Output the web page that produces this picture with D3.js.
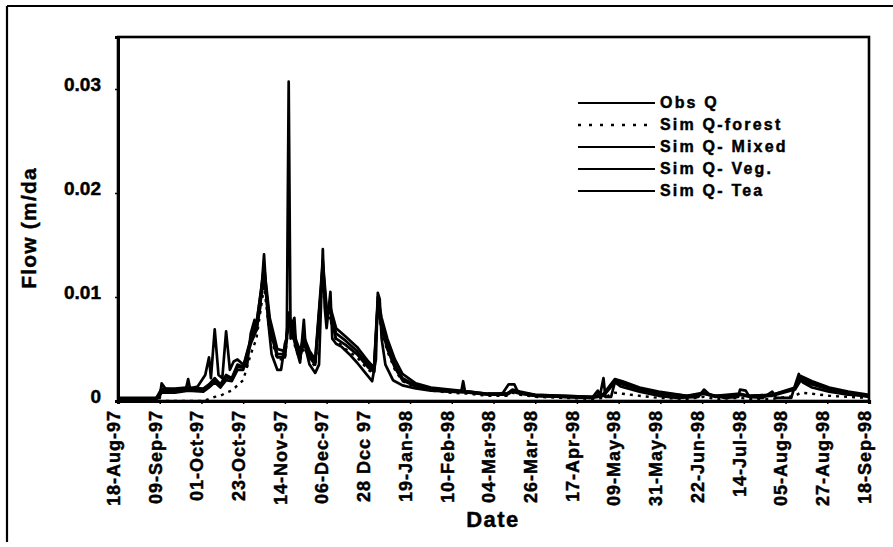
<!DOCTYPE html>
<html>
<head>
<meta charset="utf-8">
<script src="https://cdn.jsdelivr.net/npm/d3@7"></script>
<style>
  html, body { margin: 0; padding: 0; background: #fff; }
  svg { display: block; }
  text { font-family: "Liberation Sans", Arial, sans-serif; font-weight: bold; fill: #000; stroke: #000; stroke-width: 0.45px; }
</style>
</head>
<body>
<svg id="chart" width="893" height="547"></svg>
<script>
// ---------------- DATA ----------------
const tickDates = ["1997-08-18","1997-09-09","1997-10-01","1997-10-23","1997-11-14","1997-12-06","1997-12-28","1998-01-19","1998-02-10","1998-03-04","1998-03-26","1998-04-17","1998-05-09","1998-05-31","1998-06-22","1998-07-14","1998-08-05","1998-08-27","1998-09-18"];
const tickLabels = ["18-Aug-97","09-Sep-97","01-Oct-97","23-Oct-97","14-Nov-97","06-Dec-97","28 Dcc 97","19-Jan-98","10-Feb-98","04-Mar-98","26-Mar-98","17-Apr-98","09-May-98","31-May-98","22-Jun-98","14-Jul-98","05-Aug-98","27-Aug-98","18-Sep-98"];
const yTicks = [0, 0.01, 0.02, 0.03];
const yTickLabels = ["0", "0.01", "0.02", "0.03"];

const obsDates = ["1997-08-18","1997-09-09","1997-09-10","1997-09-12","1997-09-17","1997-09-23","1997-09-24","1997-09-25","1997-09-29","1997-10-03","1997-10-05","1997-10-06","1997-10-08","1997-10-10","1997-10-12","1997-10-14","1997-10-16","1997-10-18","1997-10-20","1997-10-23","1997-10-25","1997-10-27","1997-10-29","1997-10-30","1997-11-01","1997-11-03","1997-11-05","1997-11-07","1997-11-10","1997-11-12","1997-11-14","1997-11-15","1997-11-16","1997-11-17","1997-11-18","1997-11-19","1997-11-20","1997-11-22","1997-11-24","1997-11-25","1997-11-27","1997-11-30","1997-12-02","1997-12-04","1997-12-05","1997-12-06","1997-12-08","1997-12-09","1997-12-11","1997-12-14","1997-12-18","1997-12-22","1997-12-26","1997-12-30","1998-01-01","1998-01-02","1998-01-03","1998-01-04","1998-01-06","1998-01-10","1998-01-15","1998-01-22","1998-01-30","1998-02-09","1998-02-15","1998-02-16","1998-02-17","1998-02-24","1998-03-06","1998-03-09","1998-03-12","1998-03-15","1998-03-17","1998-03-26","1998-04-10","1998-04-25","1998-04-28","1998-04-29","1998-05-01","1998-05-02","1998-05-05","1998-05-07","1998-05-10","1998-05-20","1998-05-30","1998-06-09","1998-06-20","1998-06-23","1998-06-26","1998-07-04","1998-07-11","1998-07-12","1998-07-15","1998-07-17","1998-07-24","1998-07-29","1998-07-31","1998-08-08","1998-08-10","1998-08-12","1998-08-14","1998-08-19","1998-08-28","1998-09-07","1998-09-18"];
const obsQ = [0.0003,0.0003,0.0017,0.0012,0.0012,0.0013,0.0021,0.0012,0.0014,0.0025,0.0042,0.0022,0.0069,0.0025,0.0022,0.0067,0.0030,0.0038,0.0040,0.0035,0.0033,0.0065,0.0078,0.0068,0.0090,0.0141,0.0080,0.0045,0.0030,0.0030,0.0055,0.0060,0.0307,0.0060,0.0075,0.0080,0.0050,0.0037,0.0078,0.0050,0.0035,0.0027,0.0035,0.0146,0.0090,0.0070,0.0105,0.0060,0.0055,0.0052,0.0045,0.0037,0.0028,0.0019,0.0040,0.0104,0.0098,0.0060,0.0035,0.0020,0.0015,0.0012,0.0010,0.0009,0.0009,0.0019,0.0009,0.0007,0.0006,0.0008,0.0016,0.0016,0.0008,0.0005,0.0004,0.0003,0.0010,0.0004,0.0022,0.0004,0.0004,0.0018,0.0014,0.0009,0.0005,0.0003,0.0004,0.0011,0.0006,0.0003,0.0004,0.0011,0.0010,0.0004,0.0003,0.0009,0.0003,0.0003,0.0015,0.0026,0.0018,0.0013,0.0009,0.0006,0.0005];

const simDates = ["1997-08-18","1997-09-07","1997-09-10","1997-09-17","1997-09-24","1997-10-02","1997-10-05","1997-10-08","1997-10-11","1997-10-14","1997-10-17","1997-10-20","1997-10-23","1997-10-27","1997-10-30","1997-11-03","1997-11-06","1997-11-10","1997-11-14","1997-11-16","1997-11-18","1997-11-20","1997-11-22","1997-11-24","1997-11-27","1997-11-30","1997-12-04","1997-12-06","1997-12-08","1997-12-11","1997-12-16","1997-12-22","1997-12-28","1997-12-31","1998-01-02","1998-01-04","1998-01-07","1998-01-11","1998-01-15","1998-01-22","1998-01-30","1998-02-09","1998-02-19","1998-03-01","1998-03-11","1998-03-14","1998-03-18","1998-03-26","1998-04-10","1998-04-25","1998-05-01","1998-05-07","1998-05-11","1998-05-20","1998-05-30","1998-06-14","1998-06-23","1998-06-29","1998-07-12","1998-07-17","1998-07-29","1998-08-10","1998-08-13","1998-08-19","1998-08-28","1998-09-07","1998-09-18"];
const simForest = [0.0000,0.0000,0.0000,0.0000,0.0000,0.0000,0.0002,0.0004,0.0005,0.0008,0.0010,0.0015,0.0020,0.0045,0.0060,0.0110,0.0065,0.0040,0.0040,0.0075,0.0062,0.0048,0.0040,0.0052,0.0040,0.0033,0.0120,0.0078,0.0078,0.0058,0.0050,0.0042,0.0030,0.0026,0.0090,0.0068,0.0048,0.0030,0.0019,0.0013,0.0010,0.0008,0.0007,0.0005,0.0005,0.0008,0.0006,0.0004,0.0003,0.0002,0.0003,0.0008,0.0007,0.0005,0.0003,0.0002,0.0004,0.0002,0.0003,0.0002,0.0002,0.0005,0.0008,0.0007,0.0005,0.0004,0.0003];
const simMixed = [0.0002,0.0002,0.0012,0.0011,0.0013,0.0012,0.0016,0.0022,0.0016,0.0025,0.0022,0.0035,0.0033,0.0060,0.0075,0.0125,0.0075,0.0045,0.0045,0.0085,0.0070,0.0055,0.0045,0.0060,0.0045,0.0038,0.0130,0.0085,0.0085,0.0065,0.0058,0.0048,0.0035,0.0030,0.0095,0.0075,0.0055,0.0035,0.0022,0.0015,0.0012,0.0010,0.0009,0.0007,0.0007,0.0010,0.0008,0.0006,0.0005,0.0004,0.0006,0.0020,0.0018,0.0012,0.0008,0.0005,0.0008,0.0005,0.0007,0.0005,0.0006,0.0012,0.0022,0.0018,0.0012,0.0008,0.0005];
const simVeg = [0.0002,0.0002,0.0010,0.0010,0.0012,0.0011,0.0015,0.0020,0.0015,0.0023,0.0021,0.0033,0.0032,0.0058,0.0072,0.0130,0.0080,0.0050,0.0048,0.0080,0.0072,0.0058,0.0048,0.0062,0.0048,0.0040,0.0135,0.0090,0.0090,0.0070,0.0062,0.0052,0.0038,0.0032,0.0100,0.0080,0.0060,0.0040,0.0026,0.0017,0.0013,0.0011,0.0009,0.0007,0.0007,0.0011,0.0009,0.0006,0.0005,0.0004,0.0007,0.0021,0.0019,0.0013,0.0009,0.0005,0.0007,0.0005,0.0006,0.0005,0.0006,0.0013,0.0024,0.0019,0.0013,0.0009,0.0006];
const simTea = [0.0001,0.0001,0.0008,0.0008,0.0010,0.0009,0.0013,0.0018,0.0013,0.0020,0.0019,0.0030,0.0030,0.0055,0.0068,0.0120,0.0070,0.0042,0.0042,0.0078,0.0065,0.0050,0.0042,0.0056,0.0042,0.0035,0.0125,0.0080,0.0080,0.0060,0.0054,0.0045,0.0032,0.0028,0.0092,0.0070,0.0050,0.0032,0.0020,0.0014,0.0011,0.0009,0.0008,0.0006,0.0006,0.0009,0.0007,0.0005,0.0004,0.0003,0.0005,0.0018,0.0016,0.0011,0.0007,0.0004,0.0007,0.0004,0.0006,0.0004,0.0005,0.0011,0.0020,0.0016,0.0011,0.0007,0.0004];

const seriesNames = ["Obs Q", "Sim Q-forest", "Sim Q- Mixed", "Sim Q- Veg.", "Sim Q- Tea"];

// ---------------- CHART ----------------
const parse = d3.timeParse("%Y-%m-%d");
const svg = d3.select("#chart");
const plot = { left: 118, top: 37, right: 869, bottom: 401 };

const x = d3.scaleTime()
  .domain([parse("1997-08-18"), parse("1998-09-18")])
  .range([plot.left, plot.right]);
const y = d3.scaleLinear().domain([0, 0.035]).range([plot.bottom, plot.top]);

// outer frame (top and left edges visible)
svg.append("line").attr("x1", 7).attr("y1", 6).attr("x2", 893).attr("y2", 6)
  .attr("stroke", "#000").attr("stroke-width", 2.2);
svg.append("line").attr("x1", 7).attr("y1", 6).attr("x2", 7).attr("y2", 542)
  .attr("stroke", "#000").attr("stroke-width", 2.2);

// series
const series = [
  { name: seriesNames[0], dates: obsDates, vals: obsQ, dash: null },
  { name: seriesNames[1], dates: simDates, vals: simForest, dash: "3,5" },
  { name: seriesNames[2], dates: simDates, vals: simMixed, dash: null },
  { name: seriesNames[3], dates: simDates, vals: simVeg, dash: null },
  { name: seriesNames[4], dates: simDates, vals: simTea, dash: null }
];
const line = d3.line().x(d => x(d[0])).y(d => y(d[1]));
const g = svg.append("g");
series.slice().reverse().forEach(s => {
  const pts = s.dates.map((d, i) => [parse(d), s.vals[i]]);
  g.append("path")
    .attr("d", line(pts))
    .attr("fill", "none")
    .attr("stroke", "#000")
    .attr("stroke-width", s.dash ? 2.4 : 2.7)
    .attr("stroke-linejoin", "round")
    .attr("stroke-dasharray", s.dash);
});

// plot frame
svg.append("rect")
  .attr("x", plot.left).attr("y", plot.top)
  .attr("width", plot.right - plot.left).attr("height", plot.bottom - plot.top)
  .attr("fill", "none").attr("stroke", "#000").attr("stroke-width", 2.6);

// Y axis
const yAxis = d3.axisLeft(y).tickValues(yTicks).tickSize(3).tickFormat((d, i) => yTickLabels[i]);
const ya = svg.append("g").attr("transform", `translate(${plot.left},0)`).call(yAxis);
ya.select(".domain").attr("stroke-width", 3);
ya.selectAll(".tick line").attr("stroke-width", 1.5);
ya.selectAll(".tick text")
  .attr("x", -17).attr("dy", "0.32em").attr("y", -4.5)
  .style("font-size", "19px").style("font-family", "'Liberation Sans', Arial, sans-serif").style("font-weight", "bold");

// X axis
const xAxis = d3.axisBottom(x).tickValues(tickDates.map(parse)).tickSize(3).tickFormat((d, i) => tickLabels[i]);
const xa = svg.append("g").attr("transform", `translate(0,${plot.bottom})`).call(xAxis);
xa.select(".domain").attr("stroke-width", 3.2);
xa.selectAll(".tick line").attr("stroke-width", 1.5);
xa.selectAll(".tick text")
  .attr("transform", "translate(-5,9) rotate(-90)")
  .attr("x", 0).attr("y", 0).attr("dy", "0.35em")
  .attr("text-anchor", "end")
  .style("font-size", "18px").style("letter-spacing", "1px")
  .style("font-family", "'Liberation Sans', Arial, sans-serif").style("font-weight", "bold");

// Axis titles
svg.append("text").attr("x", 493).attr("y", 527).attr("text-anchor", "middle")
  .style("font-size", "22px").style("letter-spacing", "1.5px").text("Date");
svg.append("text").attr("transform", "translate(36,228) rotate(-90)").attr("text-anchor", "middle")
  .style("font-size", "21px").style("letter-spacing", "1.2px").text("Flow (m/da");

// Legend
const leg = svg.append("g");
series.forEach((s, i) => {
  const ly = 103 + 22 * i;
  leg.append("line").attr("x1", 578).attr("x2", 655).attr("y1", ly).attr("y2", ly)
    .attr("stroke", "#000").attr("stroke-width", s.dash ? 2.6 : 2.2)
    .attr("stroke-dasharray", s.dash ? "3,8" : null);
  leg.append("text").attr("x", 660).attr("y", ly).attr("dy", "0.32em")
    .style("font-size", "16px").style("letter-spacing", "2.2px").text(s.name);
});
</script>
</body>
</html>
